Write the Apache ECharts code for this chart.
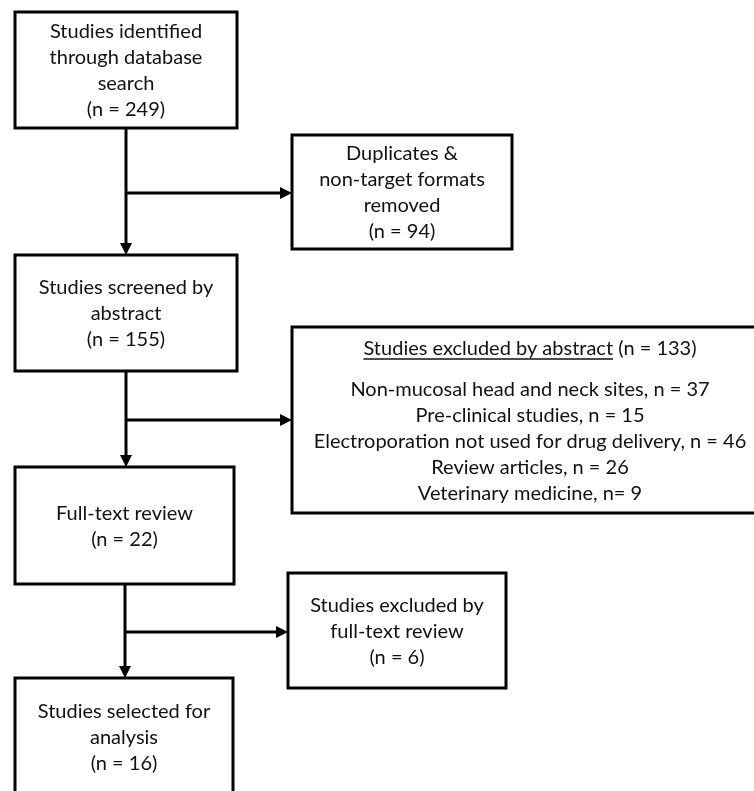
<!DOCTYPE html>
<html><head><meta charset="utf-8">
<script src="https://cdn.jsdelivr.net/npm/echarts@6/dist/echarts.min.js"></script>
<style>html,body{margin:0;padding:0;background:#fff}#c{width:754px;height:791px}</style>
</head><body><div id="c"></div>
<script>
// ---- data ----
const stageLabels = [
  'Studies identified\nthrough database\nsearch',
  'Duplicates &\nnon-target formats\nremoved',
  'Studies screened by\nabstract',
  'Studies excluded by abstract',
  'Full-text review',
  'Studies excluded by\nfull-text review',
  'Studies selected for\nanalysis'
];
const stageCounts = [249, 94, 155, 133, 22, 6, 16];
const reasonLabels = [
  'Non-mucosal head and neck sites',
  'Pre-clinical studies',
  'Electroporation not used for drug delivery',
  'Review articles',
  'Veterinary medicine'
];
const reasonCounts = [37, 15, 46, 26, 9];
const reasonSep = [', n = ', ', n = ', ', n = ', ', n = ', ', n= '];

// ---- layout (pixel space of the axes) ----
const boxLayout = [
  [15, 12, 237, 128],
  [292, 135, 512, 249],
  [15, 255, 237, 371],
  [292, 327, 768, 513],
  [15, 467, 234, 584],
  [288, 573, 506, 688],
  [15, 678, 233, 795]
];
const flowLayout = [ // trunkX, fromY, toY, branchY, branchEndX
  [126, 128, 255, 193, 292],
  [126, 371, 467, 420, 292],
  [125, 584, 678, 632, 288]
];
const FONT_FAMILY = 'Lato';
const FONT_SIZE = 20;
const LINE_H = 26;
const INK = '#000';

function measure(t) {
  const c = document.createElement('canvas').getContext('2d');
  c.font = FONT_SIZE + 'px ' + FONT_FAMILY;
  return c.measureText(t).width;
}

const boxData = stageLabels.map((l, i) => [i, stageCounts[i]]);
const flowData = flowLayout.map((f, i) => [i]);

const chart = echarts.init(document.getElementById('c'), null, {renderer: 'canvas'});
chart.setOption({
  animation: false,
  grid: {left: 0, right: 0, top: 0, bottom: 0},
  xAxis: {type: 'value', min: 0, max: 754, show: false},
  yAxis: {type: 'value', min: 0, max: 791, inverse: true, show: false},
  series: [
    {
      type: 'custom',
      coordinateSystem: 'cartesian2d',
      data: flowData,
      renderItem: function (params, api) {
        const f = flowLayout[api.value(0)];
        const top = api.coord([f[0], f[1]]);
        const bot = api.coord([f[0], f[2]]);
        const br = api.coord([f[0], f[3]]);
        const be = api.coord([f[4], f[3]]);
        const ah = 12, aw = 6;
        return {
          type: 'group',
          children: [
            {type: 'line', shape: {x1: top[0], y1: top[1], x2: bot[0], y2: bot[1] - ah}, style: {stroke: INK, lineWidth: 3}},
            {type: 'polygon', shape: {points: [[bot[0] - aw, bot[1] - ah], [bot[0] + aw, bot[1] - ah], [bot[0], bot[1]]]}, style: {fill: INK}},
            {type: 'line', shape: {x1: br[0], y1: br[1], x2: be[0] - ah, y2: be[1]}, style: {stroke: INK, lineWidth: 3}},
            {type: 'polygon', shape: {points: [[be[0] - ah, be[1] - aw], [be[0] - ah, be[1] + aw], [be[0], be[1]]]}, style: {fill: INK}}
          ]
        };
      }
    },
    {
      type: 'custom',
      coordinateSystem: 'cartesian2d',
      data: boxData,
      renderItem: function (params, api) {
        const i = api.value(0);
        const n = api.value(1);
        const b = boxLayout[i];
        const p0 = api.coord([b[0], b[1]]);
        const p1 = api.coord([b[2], b[3]]);
        const cx = (p0[0] + p1[0]) / 2, cy = (p0[1] + p1[1]) / 2;
        const children = [
          {type: 'rect', shape: {x: p0[0], y: p0[1], width: p1[0] - p0[0], height: p1[1] - p0[1]},
           style: {fill: '#fff', stroke: INK, lineWidth: 3}}
        ];
        const txtStyle = {fill: '#111', font: FONT_SIZE + 'px ' + FONT_FAMILY, align: 'center', verticalAlign: 'middle', lineHeight: LINE_H};
        if (i === 3) {
          const headU = stageLabels[i];
          const headRest = ' (n = ' + n + ')';
          const tcx = 530;
          const hx = api.coord([tcx, 349]);
          children.push({type: 'text', x: hx[0], y: hx[1], style: Object.assign({}, txtStyle, {text: headU + headRest})});
          const wAll = measure(headU + headRest), wU = measure(headU);
          const ux0 = hx[0] - wAll / 2;
          children.push({type: 'line', shape: {x1: ux0, y1: hx[1] + 10, x2: ux0 + wU, y2: hx[1] + 10}, style: {stroke: '#111', lineWidth: 1.3}});
          const lines = reasonLabels.map((r, k) => r + reasonSep[k] + reasonCounts[k]);
          const rc = api.coord([tcx, 442]);
          children.push({type: 'text', x: rc[0], y: rc[1], style: Object.assign({}, txtStyle, {text: lines.join('\n')})});
        } else {
          children.push({type: 'text', x: cx, y: cy + 1, style: Object.assign({}, txtStyle, {text: stageLabels[i] + '\n(n = ' + n + ')'})});
        }
        return {type: 'group', children: children};
      }
    }
  ]
});
</script></body></html>
